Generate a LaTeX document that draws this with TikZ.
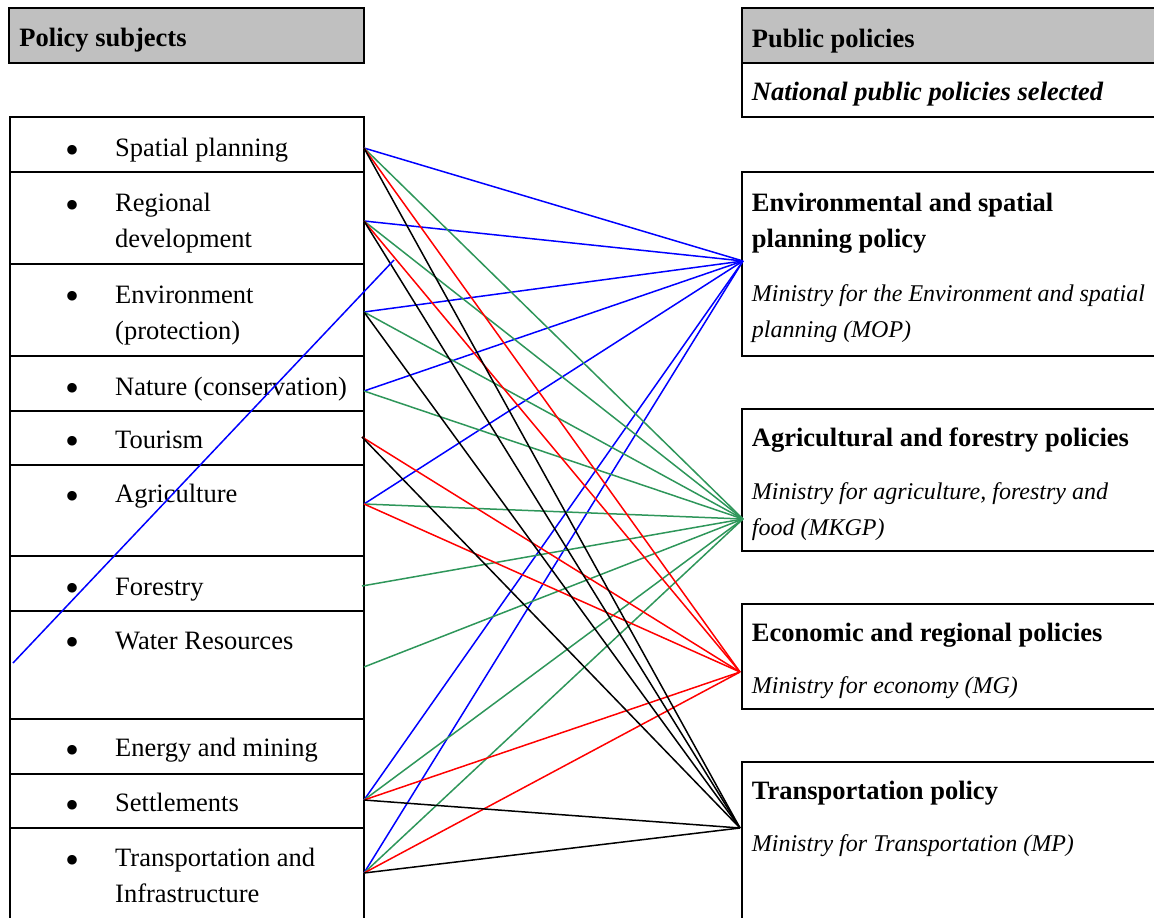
\documentclass[tikz,border=0pt]{standalone}
\usepackage{fontspec}
\setmainfont{Liberation Serif}
\definecolor{hdr}{RGB}{192,192,192}
\definecolor{lgreen}{RGB}{46,150,90}
\definecolor{lblue}{RGB}{0,0,255}
\definecolor{lred}{RGB}{255,0,0}
\begin{document}
\begin{tikzpicture}[x=1pt,y=-1pt,
  box/.style={line width=1.9pt, line cap=rect},
  item/.style={anchor=base west, inner sep=0pt, align=left, font=\fontsize{26.5}{36}\selectfont},
  bul/.style={anchor=base, inner sep=0pt, font=\fontsize{40}{40}\selectfont},
  hd/.style={anchor=base west, inner sep=0pt, align=left, font=\fontsize{26.5}{36}\selectfont\bfseries},
  sub/.style={anchor=base west, inner sep=0pt, align=left, font=\fontsize{24}{36}\selectfont\itshape},
  conn/.style={line width=1.5pt},
  bl/.style={conn, draw=lblue},
  gr/.style={conn, draw=lgreen},
  rd/.style={conn, draw=lred},
  bk/.style={conn, draw=black}
]
\useasboundingbox (0,0) rectangle (1154,918);

% ---------- left column ----------
\draw[box, fill=hdr] (9,8) rectangle (364,63);
\node[hd] (lh) at (19.3,46.7) {Policy subjects};

\draw[box] (10,940) -- (10,117) -- (364,117) -- (364,940);
\foreach \yy in {172,264,356,411,465,556,611,719,774,828}
  \draw[box] (10,\yy) -- (364,\yy);

% (anchor = baseline of the last line)
\node[item] (t1) at (115,156.5) {Spatial planning};
\node[item] (t2) at (115,247.7) {Regional\\development};
\node[item] (t3) at (115,339.3) {Environment\\(protection)};
\node[item] (t4) at (115,395) {Nature (conservation)};
\node[item] (t5) at (115,448.3) {Tourism};
\node[item] (t6) at (115,502.7) {Agriculture};
\node[item] (t7) at (115,595) {Forestry};
\node[item] (t8) at (115,649) {Water Resources};
\node[item] (t9) at (115,756.7) {Energy and mining};
\node[item] (t10) at (115,811.7) {Settlements};
\node[item] (t11) at (115,902.7) {Transportation and\\Infrastructure};
\foreach \yy/\nm in {156.5/b1,211.7/b2,303.3/b3,395/b4,448.3/b5,502.7/b6,595/b7,649/b8,756.7/b9,811.7/b10,866.7/b11}
  \node[bul] (\nm) at (72.7,\yy+6.5) {•};

% ---------- right column ----------
\fill[hdr] (742,8) rectangle (1160,63);
\draw[box] (1160,8) -- (742,8) -- (742,117) -- (1160,117);
\draw[box] (742,63) -- (1160,63);
\node[hd] (rh) at (751.7,47) {Public policies};
\node[hd, font=\fontsize{26.5}{36}\selectfont\bfseries\itshape] (rs) at (751.7,100) {National public policies selected};

\draw[box] (1160,172) -- (742,172) -- (742,356) -- (1160,356);
\node[hd] (p1) at (751.7,247.7) {Environmental and spatial\\planning policy};
\node[sub] (m1) at (751.7,337.7) {Ministry for the Environment and spatial\\planning (MOP)};

\draw[box] (1160,409) -- (742,409) -- (742,551) -- (1160,551);
\node[hd] (p2) at (751.7,446.7) {Agricultural and forestry policies};
\node[sub] (m2) at (751.7,535) {Ministry for agriculture, forestry and\\food (MKGP)};

\draw[box] (1160,604) -- (742,604) -- (742,709) -- (1160,709);
\node[hd] (p3) at (751.7,641) {Economic and regional policies};
\node[sub] (m3) at (751.7,693.3) {Ministry for economy (MG)};

\draw[box] (1160,762) -- (742,762) -- (742,940);
\node[hd] (p4) at (751.7,799) {Transportation policy};
\node[sub] (m4) at (751.7,851.7) {Ministry for Transportation (MP)};

% ---------- connection points ----------
\coordinate (sp) at (364,148);
\coordinate (rg) at (364,221);
\coordinate (en) at (364,312);
\coordinate (na) at (364,391);
\coordinate (to) at (362,437);
\coordinate (ag) at (364,504);
\coordinate (fo) at (362,586);
\coordinate (wr) at (364,667);
\coordinate (se) at (364,800);
\coordinate (tr) at (364,873);

\coordinate (Env) at (743,261);
\coordinate (Agr) at (743,519);
\coordinate (Eco) at (740,672);
\coordinate (Tra) at (740,828);

\coordinate (sA) at (13,663);
\coordinate (sB) at (394,260);

% blue -> environment
\foreach \s in {sp,rg,en,na,ag,se,tr}
  \draw[bl] (\s) -- (Env);
% green -> agriculture
\foreach \s in {sp,rg,en,na,ag,fo,wr,se,tr}
  \draw[gr] (\s) -- (Agr);
% red -> economy
\foreach \s in {sp,rg,to,ag,se,tr}
  \draw[rd] (\s) -- (Eco);
% black -> transport
\foreach \s in {sp,rg,en,to,se,tr}
  \draw[bk] (\s) -- (Tra);
% stray blue line
\draw[bl] (sA) -- (sB);
\end{tikzpicture}
\end{document}
